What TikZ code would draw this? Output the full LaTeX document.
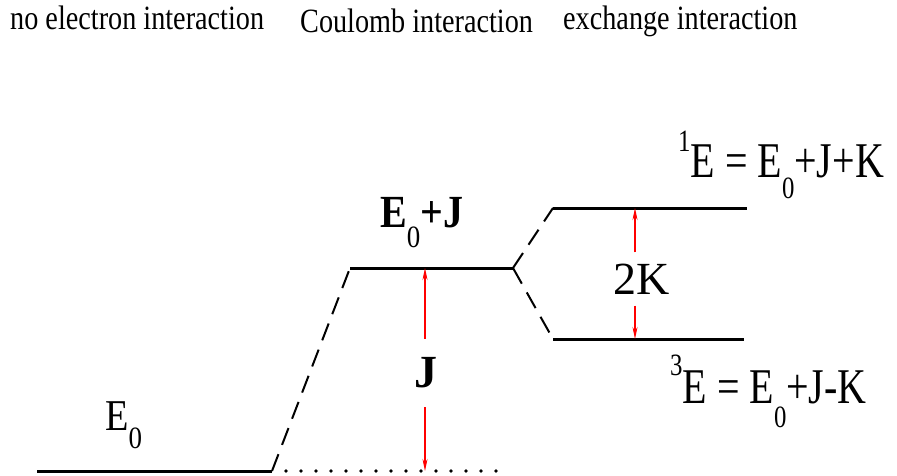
\documentclass[tikz,border=0pt]{standalone}
\usepackage{fontspec}
\setmainfont{Liberation Serif}
\usetikzlibrary{arrows.meta}

\newcommand{\lowsub}[2][-22pt]{\raisebox{#1}{\fontsize{31}{31}\selectfont #2}}
\newcommand{\highsup}[2][26pt]{\raisebox{#1}{\fontsize{31}{31}\selectfont #2}}
\newcommand{\squeeze}[2][0.87]{\scalebox{#1}[1]{#2}}

\begin{document}
\begin{tikzpicture}[x=1pt,y=-1pt,>={Stealth[length=12pt,width=5pt]},line cap=butt,
  level/.style={line width=3pt},
  link/.style={line width=2pt,dash pattern=on 18pt off 10pt},
  dotline/.style={line width=3.6pt,line cap=round,dash pattern=on 0pt off 15pt},
  gap/.style={red,line width=1.2pt,->},
  head/.style={anchor=base west,inner sep=0pt,font=\fontsize{34}{36}\selectfont},
  big/.style={anchor=base west,inner sep=0pt,font=\fontsize{50}{54}\selectfont}]
\useasboundingbox (0,0) rectangle (897,476);
\node[head] (nohead) at (10,30) {\squeeze[0.83]{no electron interaction}};
\node[head] (couhead) at (300,33) {\squeeze[0.83]{Coulomb interaction}};
\node[head] (exhead) at (563,30) {\squeeze[0.83]{exchange interaction}};
\coordinate (g0) at (37,471);
\coordinate (g1) at (272,471);
\coordinate (gd) at (502,471);
\coordinate (c0) at (350,268);
\coordinate (c1) at (513,268);
\coordinate (s0) at (553,208);
\coordinate (s1) at (747,208);
\coordinate (t0) at (553,339);
\coordinate (t1) at (744,339);
\draw[level] (g0) -- (g1);
\draw[level] (c0) -- (c1);
\draw[level] (s0) -- (s1);
\draw[level] (t0) -- (t1);
\draw[link] (g1) -- (c0);
\draw[link] (c1) -- (s0);
\draw[link] (c1) -- (t0);
\draw[dotline] ([xshift=14pt]g1) -- (gd);
\node[big,font=\fontsize{44}{48}\selectfont] (e0lab) at (105,430) {\squeeze{E\lowsub[-18pt]{0}}};
\node[big,font=\fontsize{46}{50}\selectfont] (cjlab) at (380,227) {\squeeze{\bfseries E\lowsub[-20pt]{\mdseries 0}+J}};
\node[big] (singlet) at (678,177) {\squeeze[0.8]{\highsup[25pt]{1}E = E\lowsub[-21pt]{0}+J+K}};
\node[big] (triplet) at (670,403) {\squeeze[0.8]{\highsup[28pt]{3}E = E\lowsub[-24pt]{0}+J-K}};
\coordinate (jup) at (425,268);
\coordinate (jdn) at (425,471);
\node[inner sep=0pt,minimum height=68pt,font=\fontsize{46}{50}\selectfont\bfseries] (jlab) at (426,373) {J};
\draw[gap] (jlab.north -| jup) -- (jup);
\draw[gap] (jlab.south -| jdn) -- (jdn);
\coordinate (kup) at (635,208);
\coordinate (kdn) at (635,339);
\node[inner sep=0pt,minimum height=53pt,font=\fontsize{46}{50}\selectfont] (klab) at (642,279) {2K};
\draw[gap] (klab.north -| kup) -- (kup);
\draw[gap] (klab.south -| kdn) -- (kdn);
\end{tikzpicture}
\end{document}
